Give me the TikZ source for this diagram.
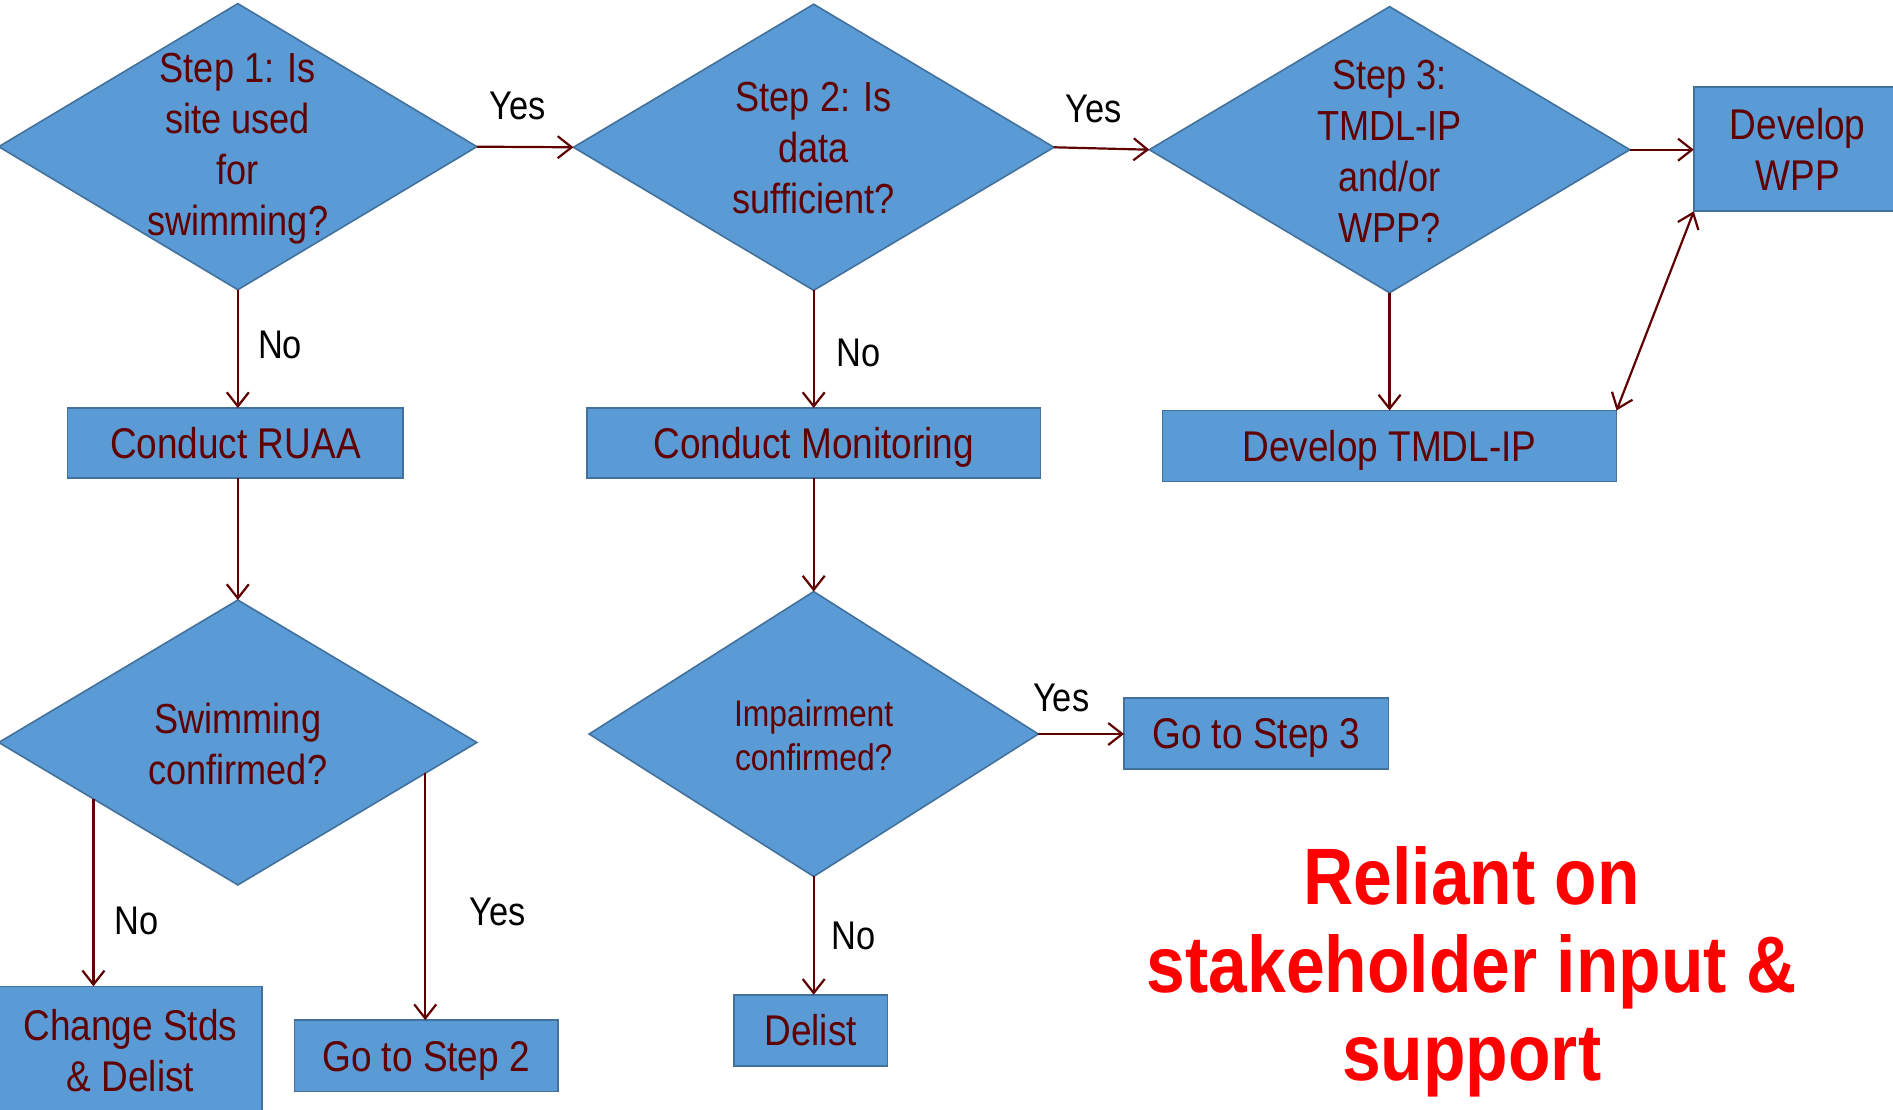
\documentclass[tikz,border=0pt]{standalone}
\usepackage{fontspec}
\setmainfont{Liberation Sans}[FakeStretch=0.86]
\newfontfamily\redfont{Liberation Sans}[FakeStretch=0.87]
\usetikzlibrary{shapes.geometric,arrows.meta,calc}
\definecolor{boxfill}{HTML}{5B9BD5}
\definecolor{boxline}{HTML}{41719C}
\definecolor{darkred}{HTML}{600000}
\definecolor{alertred}{HTML}{FF0000}
\def\pxu{0.60365pt}
\begin{document}
\begin{tikzpicture}[x=0.60365pt,y=-0.60365pt,
  dec/.style={diamond, draw=boxline, fill=boxfill, line width=0.8pt, inner sep=0pt, outer sep=0pt},
  dtext/.style={font=\fontsize{21}{25.5}\selectfont, text=darkred, align=center, inner sep=0pt},
  itext/.style={font=\fontsize{18.5}{22.3}\selectfont, text=darkred, align=center, inner sep=0pt},
  procbox/.style={rectangle, draw=boxline, fill=boxfill, line width=0.8pt, inner sep=0pt, outer sep=0pt,
    font=\fontsize{21.5}{25.5}\selectfont, text=darkred, align=center},
  oneline/.style={text height=15.5pt, text depth=0pt},
  lbl/.style={font=\fontsize{20}{24}\selectfont, text=black, inner sep=0pt},
  conn/.style={draw=darkred, line width=1.1pt, -{Straight Barb[length=7pt,width=11pt,line width=1.1pt]}},
  biconn/.style={draw=darkred, line width=1.1pt, {Straight Barb[length=7pt,width=11pt,line width=1.1pt]}-{Straight Barb[length=7pt,width=11pt,line width=1.1pt]}}
]
\useasboundingbox (0,0) rectangle (1568,919);

% diamonds
\node[dec, minimum width=396*\pxu, minimum height=237*\pxu] (d1) at (197,121.5) {};
\node[dtext] (d1t) at (197,123) {Step 1: Is\\site used\\for\\swimming?};
\node[dec, minimum width=398*\pxu, minimum height=237*\pxu] (d2) at (674,122) {};
\node[dtext] (d2t) at (674,123) {Step 2: Is\\data\\sufficient?};
\node[dec, minimum width=398*\pxu, minimum height=237*\pxu] (d3) at (1151,124) {};
\node[dtext] (d3t) at (1151,125) {Step 3:\\TMDL-IP\\and/or\\WPP?};
\node[dec, minimum width=396*\pxu, minimum height=236*\pxu] (d4) at (197,615) {};
\node[dtext] (d4t) at (197,616) {Swimming\\confirmed?};
\node[dec, minimum width=372*\pxu, minimum height=236*\pxu] (d5) at (674,608) {};
\node[itext] (d5t) at (674,609) {Impairment\\confirmed?};

% boxes
\node[procbox, minimum width=172*\pxu, minimum height=103*\pxu] (wpp) at (1489,123.5) {Develop\\WPP};
\node[procbox, oneline, minimum width=278*\pxu, minimum height=58*\pxu] (ruaa) at (195,367) {Conduct RUAA};
\node[procbox, oneline, minimum width=376*\pxu, minimum height=58*\pxu] (mon) at (674,367) {Conduct Monitoring};
\node[procbox, oneline, minimum width=376*\pxu, minimum height=59*\pxu] (tmdl) at (1151,369.5) {Develop TMDL-IP};
\node[procbox, minimum width=218*\pxu, minimum height=106*\pxu] (chg) at (108,870) {Change Stds\\\& Delist};
\node[procbox, oneline, minimum width=218*\pxu, minimum height=59*\pxu] (go2) at (353,874.5) {Go to Step 2};
\node[procbox, oneline, minimum width=219*\pxu, minimum height=59*\pxu] (go3) at (1040.5,607.5) {Go to Step 3};
\node[procbox, oneline, minimum width=127*\pxu, minimum height=59*\pxu] (del) at (671.5,853.5) {Delist};

% connectors
\draw[conn] (d1.east) -- (d2.west);
\draw[conn] (d2.east) -- (d3.west);
\draw[conn] (d3.east) -- (d3.east -| wpp.west);
\draw[conn] (d1.south) -- (d1.south |- ruaa.north);
\draw[conn] (d2.south) -- (d2.south |- mon.north);
\draw[conn] (d3.south) -- (d3.south |- tmdl.north);
\draw[biconn] (tmdl.north east) -- (wpp.south west);
\draw[conn] (ruaa.south -| d4.north) -- (d4.north);
\draw[conn] (mon.south -| d5.north) -- (d5.north);
\coordinate (d4l) at ($(d4.west)!0.396!(d4.south)$);
\coordinate (d4r) at ($(d4.east)!0.216!(d4.south)$);
\draw[conn] (d4l) -- (d4l |- chg.north);
\draw[conn] (d4r) -- (d4r |- go2.north);
\draw[conn] (d5.east) -- (d5.east -| go3.west);
\draw[conn] (d5.south) -- (d5.south |- del.north);

% labels
\node[lbl] (y1) at (429,88) {Yes};
\node[lbl] (y2) at (906,90) {Yes};
\node[lbl] (n1) at (232,286) {No};
\node[lbl] (n2) at (711,292) {No};
\node[lbl] (n3) at (113,763) {No};
\node[lbl] (y3) at (412,755) {Yes};
\node[lbl] (y4) at (879,578) {Yes};
\node[lbl] (n4) at (707,775) {No};

% note
\node[font=\redfont\bfseries\fontsize{40}{44}\selectfont, text=alertred, align=center, inner sep=0pt] (note) at (1219,805) {Reliant on\\stakeholder input \&\\support};
\end{tikzpicture}
\end{document}
